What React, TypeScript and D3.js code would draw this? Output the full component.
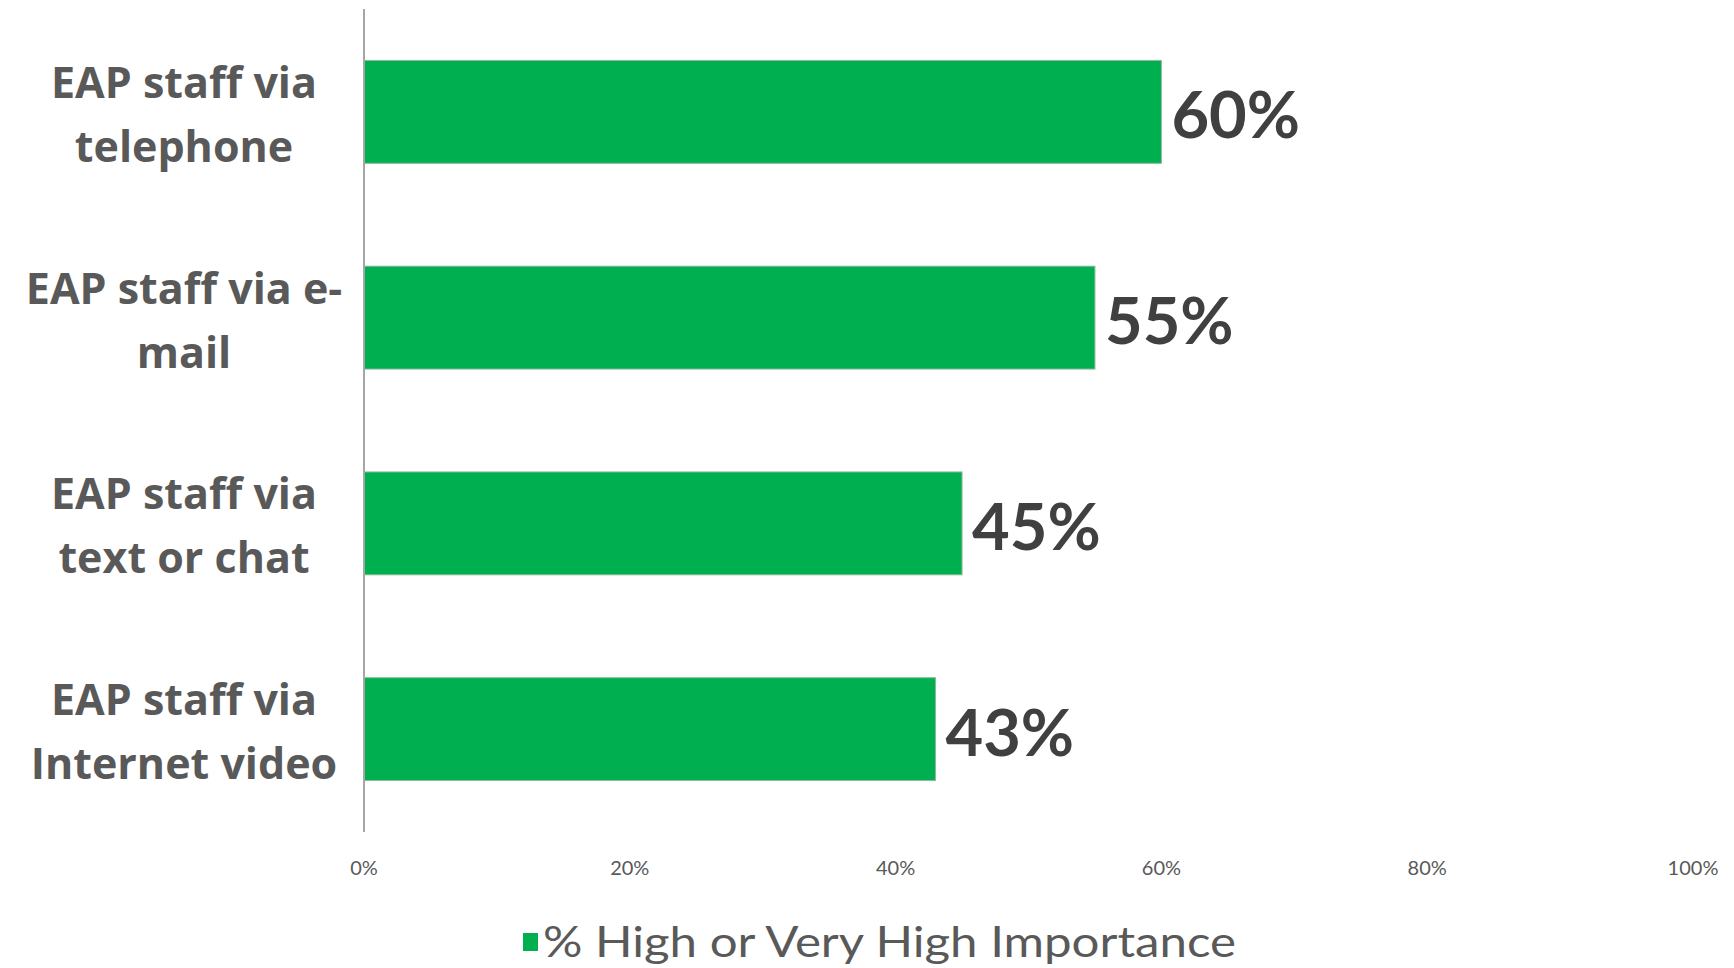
import React from "react";
import * as d3 from "d3";

const categories = [
  ["EAP staff via", "telephone"],
  ["EAP staff via e-", "mail"],
  ["EAP staff via", "text or chat"],
  ["EAP staff via", "Internet video"],
];
const values = [0.6, 0.55, 0.45, 0.43];
const valueLabels = ["60%", "55%", "45%", "43%"];
const ticks = [0, 0.2, 0.4, 0.6, 0.8, 1.0];
const tickLabels = ["0%", "20%", "40%", "60%", "80%", "100%"];
const seriesName = "% High or Very High Importance";

const W = 1734;
const H = 968;
const left = 364;
const right = 1693;
const top = 9;
const bottom = 832;
const green = "#00B050";
const gray = "#595959";
const font = "Lato, 'Open Sans', sans-serif";
const boldFont = "'Open Sans', Lato, sans-serif";

export default function App() {
  const x = d3.scaleLinear().domain([0, 1]).range([left, right]);
  const y = d3
    .scaleBand<number>()
    .domain(d3.range(categories.length))
    .range([top, bottom])
    .paddingInner(0.5)
    .paddingOuter(0.25);

  return (
    <svg
      width={W}
      height={H}
      style={{ position: "absolute", left: 0, top: 0, background: "#fff" }}
    >
      {values.map((v, i) => (
        <rect
          key={i}
          x={x(0)}
          y={y(i)!}
          width={x(v) - x(0)}
          height={y.bandwidth()}
          fill={green}
          stroke="#8fb99c"
          strokeWidth={1}
        />
      ))}
      <line x1={x(0)} x2={x(0)} y1={top} y2={bottom} stroke="#a6a6a6" strokeWidth={2} />
      {values.map((v, i) => (
        <text
          key={i}
          x={x(v) + 10}
          y={y(i)! + y.bandwidth() / 2 + 3}
          dy="0.36em"
          fontFamily={font}
          fontWeight={700}
          fontSize={65}
          fill="#404040"
        >
          {valueLabels[i]}
        </text>
      ))}
      {categories.map((lines, i) => (
        <text
          key={i}
          x={184}
          y={y(i)! + y.bandwidth() / 2 + 3}
          textAnchor="middle"
          fontFamily={boldFont}
          fontWeight={700}
          fontSize={43}
          fill={gray}
        >
          <tspan x={184} dy={-32 + 15}>
            {lines[0]}
          </tspan>
          <tspan x={184} dy={64}>
            {lines[1]}
          </tspan>
        </text>
      ))}
      {ticks.map((t, i) => (
        <text
          key={i}
          x={x(t)}
          y={868}
          dy="0.35em"
          textAnchor="middle"
          fontFamily={font}
          fontSize={20}
          fill={gray}
        >
          {tickLabels[i]}
        </text>
      ))}
      <rect x={523} y={933} width={15} height={18} fill={green} />
      <text
        x={543}
        y={942}
        dy="0.35em"
        fontFamily={font}
        fontSize={42}
        fill={gray}
        textLength={693}
        lengthAdjust="spacingAndGlyphs"
      >
        {seriesName}
      </text>
    </svg>
  );
}
